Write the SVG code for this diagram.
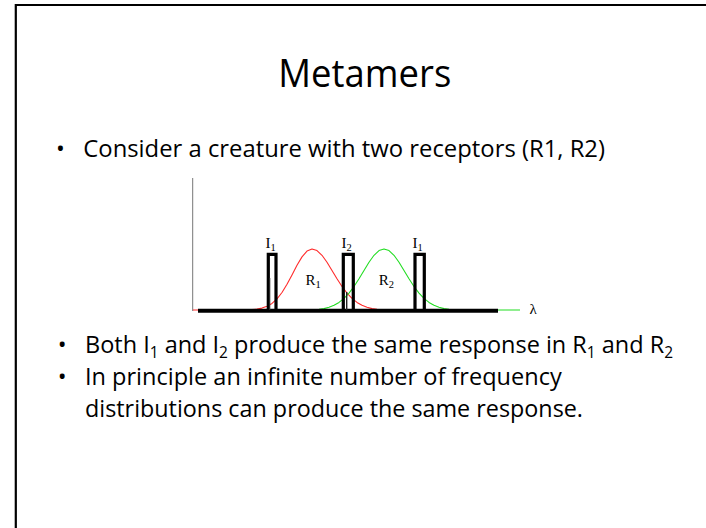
<svg xmlns="http://www.w3.org/2000/svg" width="706" height="528" viewBox="0 0 706 528">
<style>
.body{font-family:"Open Sans","Liberation Sans",sans-serif;font-size:23.5px;fill:#000}
.sub{font-size:15.5px}
.lbl{font-family:"Liberation Serif",serif;font-size:15px;fill:#000}
.lsub{font-size:10.5px}
.bar{fill:none;stroke:#000;stroke-width:3.2}
</style>
<rect x="0" y="0" width="706" height="528" fill="#fff"/>
<path d="M15.8,528 L15.8,5 L706,5" fill="none" stroke="#000" stroke-width="2.2"/>
<g id="title">
<text x="278.3" y="86.7" font-family="Open Sans, Liberation Sans, sans-serif" font-size="37.5" textLength="173" lengthAdjust="spacingAndGlyphs">Metamers</text>
</g>
<g id="bullet1">
<text x="56" y="156.7" class="body">•</text>
<text x="83.3" y="156.7" class="body" textLength="521.7" lengthAdjust="spacingAndGlyphs">Consider a creature with two receptors (R1, R2)</text>
</g>
<g id="chart">
<line x1="192.7" y1="178" x2="192.7" y2="311" stroke="#777" stroke-width="1"/>
<path d="M193,310 L242,310 L247,309.8 L252,309.6 L257,309.1 L262,308.1 L267,306.3 L272,303.4 L277,298.8 L282,292.5 L287,284.3 L292,274.9 L297,265.3 L302,256.9 L307,251.1 L312,249 L317,250.6 L322,255.3 L327,262.3 L332,270.5 L337,278.8 L342,286.5 L347,293.1 L352,298.4 L357,302.4 L362,305.3 L367,307.3 L372,308.6 L377,309.3 L382,309.7 L390,310" fill="none" stroke="#ff2b2b" stroke-width="1.1" stroke-linejoin="round"/>
<path d="M300,310 L309,310 L314,309.7 L319,309.3 L324,308.6 L329,307.3 L334,305.3 L339,302.4 L344,298.4 L349,293.1 L354,286.5 L359,278.8 L364,270.5 L369,262.3 L374,255.3 L379,250.6 L384,249 L389,250.6 L394,255.3 L399,262.3 L404,270.5 L409,278.8 L414,286.5 L419,293.1 L424,298.4 L429,302.4 L434,305.3 L439,307.3 L444,308.6 L449,309.3 L454,309.7 L462,310 L520,310" fill="none" stroke="#22dd22" stroke-width="1.1" stroke-linejoin="round"/>
<line x1="198" y1="310.8" x2="498" y2="310.8" stroke="#000" stroke-width="4"/>
<g id="bar-I1a">
<path class="bar" d="M268.3,311 V254.3 H276 V311"/>
<line x1="269.8" y1="278" x2="269.8" y2="310" stroke="#333" stroke-width="1"/>
<text x="265.5" y="247.5" class="lbl">I<tspan class="lsub" dy="3">1</tspan></text>
</g>
<g id="bar-I2">
<path class="bar" d="M343.3,311 V254.3 H353.3 V311"/>
<line x1="346.7" y1="292" x2="346.7" y2="310" stroke="#222" stroke-width="1.4"/>
<text x="341.5" y="247.5" class="lbl">I<tspan class="lsub" dy="3">2</tspan></text>
</g>
<g id="bar-I1b">
<path class="bar" d="M415,311 V254.3 H424.3 V311"/>
<text x="412.5" y="247.5" class="lbl">I<tspan class="lsub" dy="3">1</tspan></text>
</g>
<text x="305.5" y="284.5" class="lbl">R<tspan class="lsub" dy="3">1</tspan></text>
<text x="378.8" y="285" class="lbl">R<tspan class="lsub" dy="3">2</tspan></text>
<text x="529.5" y="314" class="lbl" font-size="12">λ</text>
</g>
<g id="bullet2">
<text x="57.7" y="353.3" class="body">•</text>
<text x="85" y="353.3" class="body" textLength="588" lengthAdjust="spacingAndGlyphs">Both I<tspan class="sub" dy="5">1</tspan><tspan dy="-5"> and I</tspan><tspan class="sub" dy="5">2</tspan><tspan dy="-5"> produce the same response in R</tspan><tspan class="sub" dy="5">1</tspan><tspan dy="-5"> and R</tspan><tspan class="sub" dy="5">2</tspan></text>
</g>
<g id="bullet3">
<text x="57.7" y="385" class="body">•</text>
<text x="85" y="385" class="body" textLength="476.7" lengthAdjust="spacingAndGlyphs">In principle an infinite number of frequency</text>
<text x="85" y="417" class="body" textLength="498" lengthAdjust="spacingAndGlyphs">distributions can produce the same response.</text>
</g>
</svg>
